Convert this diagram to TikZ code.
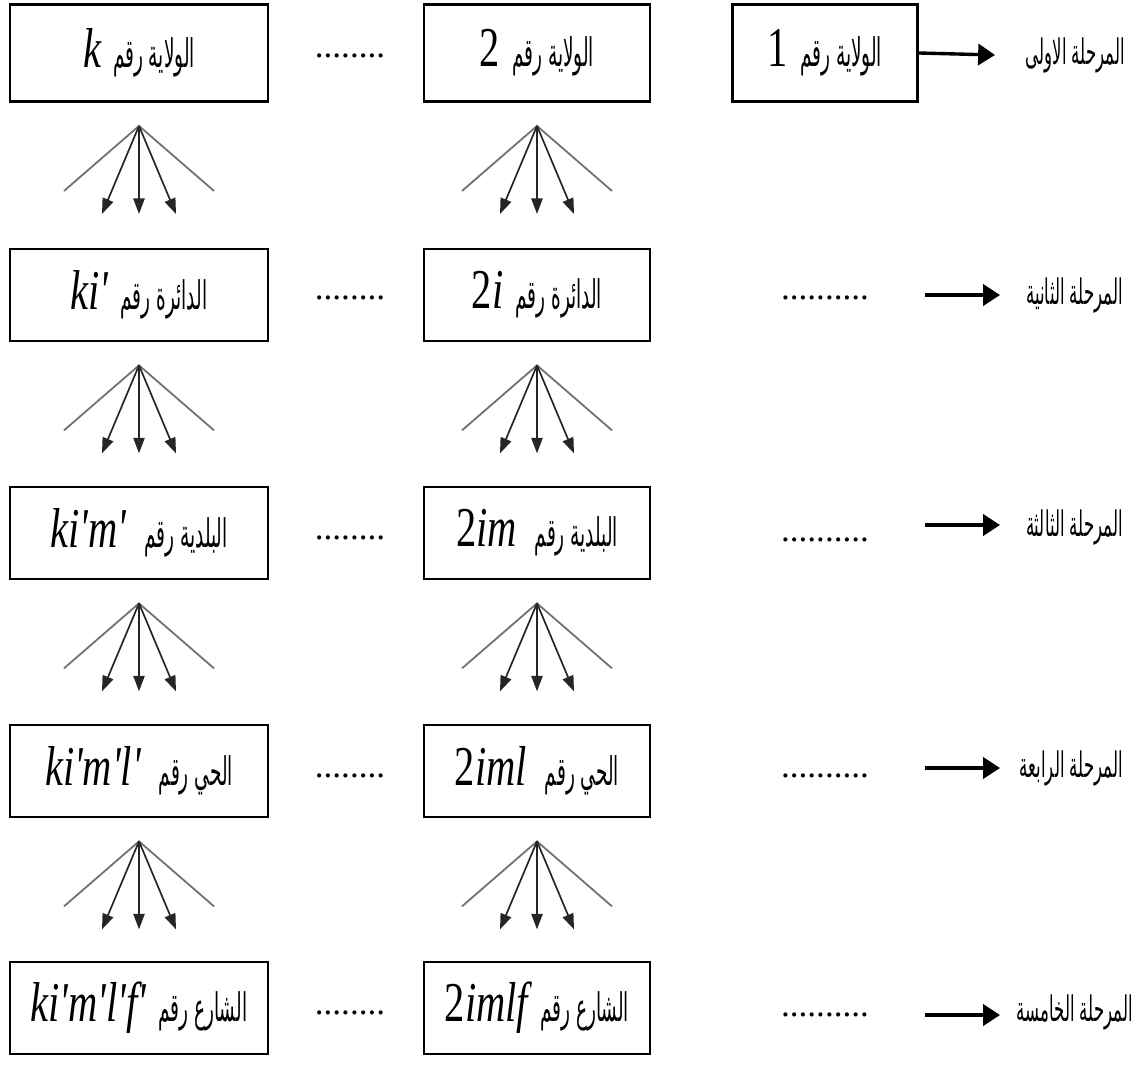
\documentclass[tikz,border=0pt]{standalone}
\usepackage{fontspec}
\setmainfont{Liberation Serif}
\newfontfamily\varfont[FakeStretch=0.72]{Liberation Serif}
\newfontfamily\arabicfont[Script=Arabic,FakeStretch=0.47]{DejaVu Sans}
\TeXXeTstate=1
\usepackage{tikz}
\usetikzlibrary{arrows.meta,positioning}
\newcommand{\vartxt}{\varfont\itshape\fontsize{40}{42}\selectfont}
\newcommand{\artxt}{\arabicfont\fontsize{28}{30}\selectfont}
\newcommand{\stgtxt}{\arabicfont\fontsize{25}{27}\selectfont}
\tikzset{
  unit/.style={draw=black,line width=1.9pt,fill=white,inner sep=2pt,minimum height=2.3cm},
  colk/.style={unit,minimum width=6.45cm},
  coltwo/.style={unit,minimum width=5.65cm},
  fanline/.style={draw=black!55,line width=1.3pt},
  fanarr/.style={-{Triangle[length=11pt,width=8pt]},draw=black!85,line width=1.2pt},
  stagearr/.style={-{Triangle[length=12pt,width=15pt]},draw=black,line width=2.4pt},
  stagelabel/.style={inner sep=0pt,anchor=east},
  gapdots/.style={font=\fontsize{25}{26}\selectfont,inner sep=0pt}
}
\begin{document}
\begin{tikzpicture}[x=0.025cm,y=-0.025cm]
  \useasboundingbox (0,0) rectangle (1138,1078);
  % row 1
  \node[colk,minimum height=2.43cm] (wk) at (139,53) {{\vartxt k}\hspace{0.3cm}{\artxt\beginR الولاية رقم\endR}};
  \node[coltwo,minimum height=2.43cm] (w2) at (537,53) {{\vartxt\upshape 2}\hspace{0.3cm}{\artxt\beginR الولاية رقم\endR}};
  \node[unit,minimum width=4.63cm,minimum height=2.43cm] (w1) at (825,53) {{\vartxt\upshape 1}\hspace{0.3cm}{\artxt\beginR الولاية رقم\endR}};
  \node[gapdots] (g1) at (350,56) {........};
  % rows 2-5
  \node[colk] (dk) at (139,295) {{\vartxt ki'}\hspace{0.3cm}{\artxt\beginR الدائرة رقم\endR}};
  \node[coltwo] (d2) at (537,295) {{\vartxt{\upshape 2}i}\hspace{0.3cm}{\artxt\beginR الدائرة رقم\endR}};
  \node[colk] (bk) at (139,533) {{\vartxt ki'm'}\hspace{0.45cm}{\artxt\beginR البلدية رقم\endR}};
  \node[coltwo] (b2) at (537,533) {{\vartxt{\upshape 2}im}\hspace{0.45cm}{\artxt\beginR البلدية رقم\endR}};
  \node[colk] (hk) at (139,771) {{\vartxt ki'm'l'}\hspace{0.45cm}{\artxt\beginR الحي رقم\endR}};
  \node[coltwo] (h2) at (537,771) {{\vartxt{\upshape 2}iml}\hspace{0.45cm}{\artxt\beginR الحي رقم\endR}};
  \node[colk] (sk) at (139,1008) {{\vartxt ki'm'l'f'}\hspace{0.3cm}{\artxt\beginR الشارع رقم\endR}};
  \node[coltwo] (s2) at (537,1008) {{\vartxt{\upshape 2}imlf}\hspace{0.3cm}{\artxt\beginR الشارع رقم\endR}};
  \node[gapdots] (g2) at (350,298) {........};
  \node[gapdots] (g3) at (350,538) {........};
  \node[gapdots] (g4) at (350,776) {........};
  \node[gapdots] (g5) at (350,1013) {........};
  \node[gapdots] (r2) at (825,298) {..........};
  \node[gapdots] (r3) at (825,540) {..........};
  \node[gapdots] (r4) at (825,776) {..........};
  \node[gapdots] (r5) at (825,1015) {..........};

  % stages
  \coordinate (t1) at (995,55);
  \coordinate (a2) at (925,295);  \coordinate (t2) at (1000,295);
  \coordinate (a3) at (925,525);  \coordinate (t3) at (1000,525);
  \coordinate (a4) at (925,768);  \coordinate (t4) at (1000,768);
  \coordinate (a5) at (925,1015); \coordinate (t5) at (1000,1015);
  \node[stagelabel] (st1) at (1125,55) {\stgtxt\beginR المرحلة الاولى\endR};
  \node[stagelabel] (st2) at (1123,295) {\stgtxt\beginR المرحلة الثانية\endR};
  \node[stagelabel] (st3) at (1123,527) {\stgtxt\beginR المرحلة الثالثة\endR};
  \node[stagelabel] (st4) at (1123,768) {\stgtxt\beginR المرحلة الرابعة\endR};
  \node[stagelabel] (st5) at (1133,1012) {\stgtxt\beginR المرحلة الخامسة\endR};
  \draw[stagearr] (w1.east) -- (t1);
  \draw[stagearr] (a2) -- (t2);
  \draw[stagearr] (a3) -- (t3);
  \draw[stagearr] (a4) -- (t4);
  \draw[stagearr] (a5) -- (t5);

  % fans under each box
  \foreach \b in {wk,w2,dk,d2,bk,b2,hk,h2}{
    \path (\b.south) ++(0,23) coordinate (\b-o)
      ++(-75,65) coordinate (\b-l) ++(150,0) coordinate (\b-r);
    \path (\b-o) ++(-37,88) coordinate (\b-1) ++(37,0) coordinate (\b-2) ++(37,0) coordinate (\b-3);
    \draw[fanline] (\b-l) -- (\b-o) -- (\b-r);
    \foreach \i in {1,2,3} \draw[fanarr] (\b-o) -- (\b-\i);
  }
\end{tikzpicture}
\end{document}
